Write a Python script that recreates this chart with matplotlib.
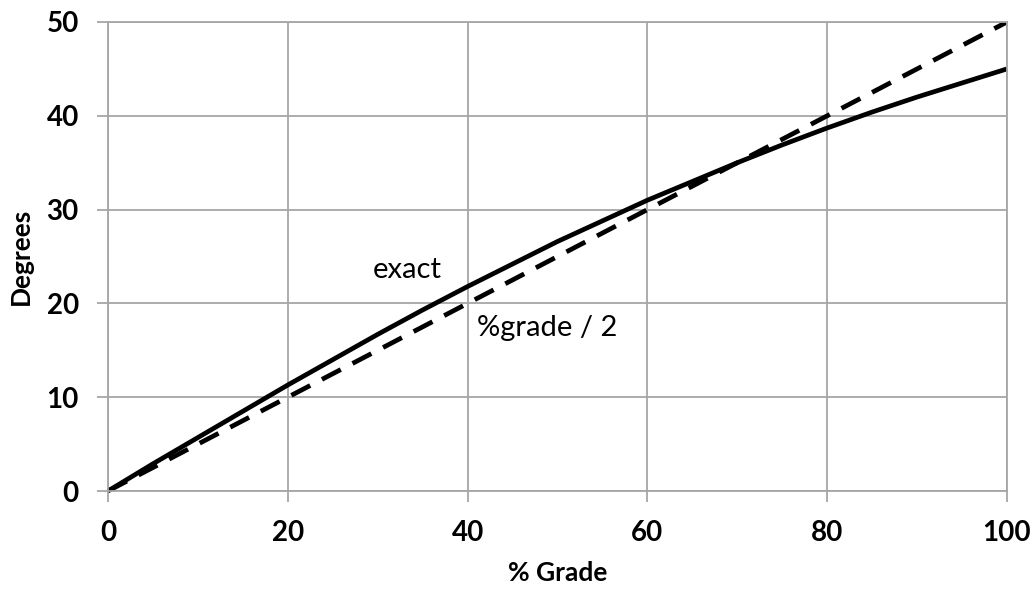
import matplotlib
matplotlib.use("Agg")
import matplotlib.pyplot as plt

grade = [0, 5, 10, 15, 20, 25, 30, 35, 40, 45, 50, 55, 60, 65, 70, 75, 80, 85, 90, 95, 100]
exact_deg = [0, 2.9, 5.7, 8.5, 11.3, 14.0, 16.7, 19.3, 21.8, 24.2, 26.6, 28.8, 31.0,
             33.0, 35.0, 36.9, 38.7, 40.4, 42.0, 43.5, 45.0]
approx_grade = [0, 100]
approx_deg = [0, 50]
xticks = [0, 20, 40, 60, 80, 100]
yticks = [0, 10, 20, 30, 40, 50]

plt.rcParams['font.family'] = ['Lato', 'DejaVu Sans']

fig = plt.figure(figsize=(10.35, 5.93), dpi=100)
ax = fig.add_axes([108/1035, 1 - 491/593, 899/1035, 469/593])

grid_c = '#a6a6a6'
ax.set_xlim(0, 100)
ax.set_ylim(0, 50)
ax.set_xticks(xticks)
ax.set_yticks(yticks)
ax.grid(True, color=grid_c, linewidth=1.3)
ax.set_axisbelow(True)
for s in ax.spines.values():
    s.set_color(grid_c)
    s.set_linewidth(1.3)
ax.tick_params(direction='out', length=8, width=1.3, color=grid_c,
               labelsize=20, pad=13)
for lab in ax.get_xticklabels() + ax.get_yticklabels():
    lab.set_fontweight('bold')

ax.plot(grade, exact_deg, color='black', linewidth=3.4, solid_capstyle='butt', clip_on=False)
ax.plot(approx_grade, approx_deg, color='black', linewidth=3.4, dashes=(4.5, 2.8), clip_on=True)

ax.text(33.3, 23.6, 'exact', fontsize=21, ha='center', va='center')
ax.text(48.8, 17.4, '%grade / 2', fontsize=21, ha='center', va='center')

ax.set_xlabel('% Grade', fontsize=19, fontweight='bold', labelpad=11)
ax.set_ylabel('Degrees', fontsize=19, fontweight='bold', labelpad=10)

fig.savefig('out.png', dpi=100, facecolor='white')
